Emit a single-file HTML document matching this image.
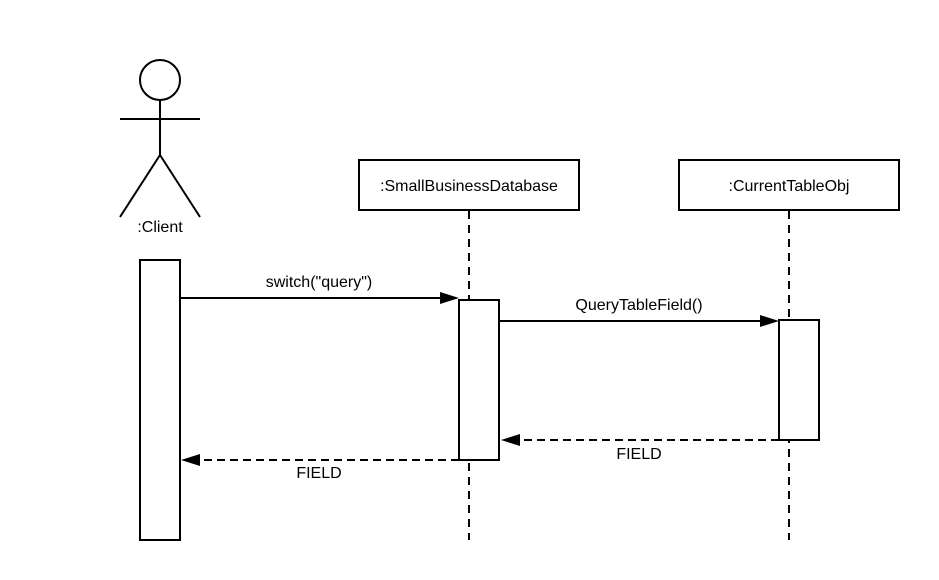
<!DOCTYPE html>
<html><head><style>html,body{margin:0;padding:0;background:#fff}svg{display:block}text{font-family:"Liberation Sans",Arial,sans-serif;font-size:16px;fill:#000}</style></head>
<body>
<svg width="939" height="580" viewBox="0 0 939 580" xmlns="http://www.w3.org/2000/svg">
<g stroke="#000" stroke-width="2" fill="none">
<circle cx="160" cy="80" r="20" fill="#fff"/>
<line x1="160" y1="100" x2="160" y2="155"/>
<line x1="120" y1="119" x2="200" y2="119"/>
<line x1="160" y1="155" x2="120" y2="217"/>
<line x1="160" y1="155" x2="200" y2="217"/>
<rect x="359" y="160" width="220" height="50" fill="#fff"/>
<rect x="679" y="160" width="220" height="50" fill="#fff"/>
<line x1="469" y1="211" x2="469" y2="540" stroke-dasharray="8,6"/>
<line x1="789" y1="211" x2="789" y2="540" stroke-dasharray="8,6"/>
<rect x="140" y="260" width="40" height="280" fill="#fff"/>
<rect x="459" y="300" width="40" height="160" fill="#fff"/>
<rect x="779" y="320" width="40" height="120" fill="#fff"/>
<line x1="180" y1="298" x2="445" y2="298"/>
<line x1="499" y1="321" x2="765" y2="321"/>
<line x1="779" y1="440" x2="515" y2="440" stroke-dasharray="8,5"/>
<line x1="459" y1="460" x2="197" y2="460" stroke-dasharray="8,5"/>
</g>
<g fill="#000">
<polygon points="459,298 440,292 440,304"/>
<polygon points="779,321 760,315 760,327"/>
<polygon points="501,440 520,434 520,446"/>
<polygon points="181,460 200,454 200,466"/>
</g>
<text x="160" y="232" text-anchor="middle">:Client</text>
<text x="469" y="191" text-anchor="middle">:SmallBusinessDatabase</text>
<text x="789" y="191" text-anchor="middle">:CurrentTableObj</text>
<text x="319" y="287" text-anchor="middle">switch("query")</text>
<text x="639" y="310" text-anchor="middle">QueryTableField()</text>
<text x="639" y="459" text-anchor="middle">FIELD</text>
<text x="319" y="478" text-anchor="middle">FIELD</text>
</svg>
</body></html>
